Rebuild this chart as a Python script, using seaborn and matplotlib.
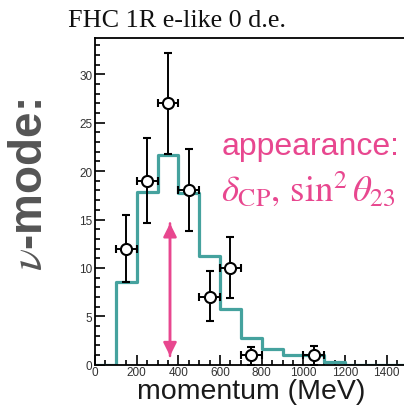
import numpy as np
import pandas as pd
import seaborn as sns
import matplotlib
matplotlib.use("Agg")
import matplotlib.pyplot as plt
from matplotlib.ticker import MultipleLocator

# Predicted spectrum (100 MeV bins, 0-1500 MeV)
bin_edges = [0, 100, 200, 300, 400, 500, 600, 700, 800, 900, 1000, 1100, 1200, 1300, 1400, 1500]
predicted = [0.0, 8.55, 17.8, 21.7, 17.7, 11.25, 5.8, 2.8, 1.65, 1.03, 1.03, 0.3, 0.0, 0.0, 0.0]

# Observed events with asymmetric errors
data_momentum = [150, 250, 350, 450, 550, 650, 750, 1050]
data_counts = [12, 19, 27, 18, 7, 10, 1, 1]
err_low = [3.5, 4.4, 5.2, 4.2, 2.5, 3.15, 1.0, 1.0]
err_high = [3.5, 4.4, 5.2, 4.25, 2.65, 3.15, 0.85, 0.9]
bin_half_width = 50

# Arrow spanning the appearance range
arrow_x = 360
arrow_bottom = 0.9
arrow_top = 14.6

teal = "#45a29e"
pink = "#e8478f"

sns.set_style("ticks")
plt.rcParams["font.family"] = ["Liberation Sans", "DejaVu Sans"]
plt.rcParams["mathtext.fontset"] = "stix"

W, H = 404, 406
fig = plt.figure(figsize=(W / 100, H / 100), dpi=100)
ax = fig.add_axes([95 / W, 1 - 365.7 / H, 312.5 / W, (365.7 - 39) / H])

centers = [(a + b) / 2 for a, b in zip(bin_edges[:-1], bin_edges[1:])]
spec = pd.DataFrame({"momentum": centers, "events": predicted})
sns.histplot(data=spec, x="momentum", weights="events", bins=bin_edges,
             element="step", fill=False, color=teal, linewidth=2.3, ax=ax)

ax.errorbar(data_momentum, data_counts,
            yerr=[err_low, err_high], xerr=bin_half_width,
            fmt="o", color="black", ecolor="black", elinewidth=1.4,
            capsize=3, capthick=1.4, markersize=8,
            markerfacecolor="white", markeredgecolor="black",
            markeredgewidth=1.5, zorder=5)

ax.annotate("", xy=(arrow_x, arrow_top), xytext=(arrow_x, arrow_bottom),
            arrowprops=dict(arrowstyle="-|>", color=pink, lw=1.8,
                            mutation_scale=20, shrinkA=0, shrinkB=0))
ax.annotate("", xy=(arrow_x, arrow_bottom), xytext=(arrow_x, arrow_top),
            arrowprops=dict(arrowstyle="-|>", color=pink, lw=1.8,
                            mutation_scale=20, shrinkA=0, shrinkB=0))

ax.set_xlim(0, 1500)
ax.set_ylim(0, 33.75)
ax.xaxis.set_major_locator(MultipleLocator(200))
ax.xaxis.set_minor_locator(MultipleLocator(50))
ax.yaxis.set_major_locator(MultipleLocator(5))
ax.yaxis.set_minor_locator(MultipleLocator(1))
ax.tick_params(which="both", direction="in", top=False, right=False,
               colors="black", labelcolor="#333333", labelsize=8.5, width=1.2)
ax.tick_params(which="major", length=7, pad=2)
ax.tick_params(axis="x", which="major", pad=1)
ax.tick_params(which="minor", length=3.5)
for s in ax.spines.values():
    s.set_linewidth(1.3)
    s.set_color("black")
ax.set_xlabel("")
ax.set_ylabel("")

fig.text(137 / W, 1 - 399.5 / H, "momentum (MeV)", fontsize=20.5, color="#1a1a1a",
         ha="left", va="baseline")
fig.text(68 / W, 1 - 27 / H, "FHC 1R e-like 0 d.e.", fontsize=18.8,
         family=["Liberation Serif"], color="#111111", ha="left", va="baseline")
fig.text(222 / W, 1 - 155 / H, "appearance:", fontsize=23, color=pink,
         ha="left", va="baseline")
fig.text(221 / W, 1 - 201 / H, r"$\delta_{\mathrm{CP}},\,\sin^2\theta_{23}$",
         fontsize=26.5, color=pink, ha="left", va="baseline")
fig.text(30 / W, 1 - 185 / H, r"$\nu$-mode:", fontsize=33, fontweight="bold",
         color="#555555", rotation=90, ha="center", va="center")

fig.savefig("out.png", dpi=100)
